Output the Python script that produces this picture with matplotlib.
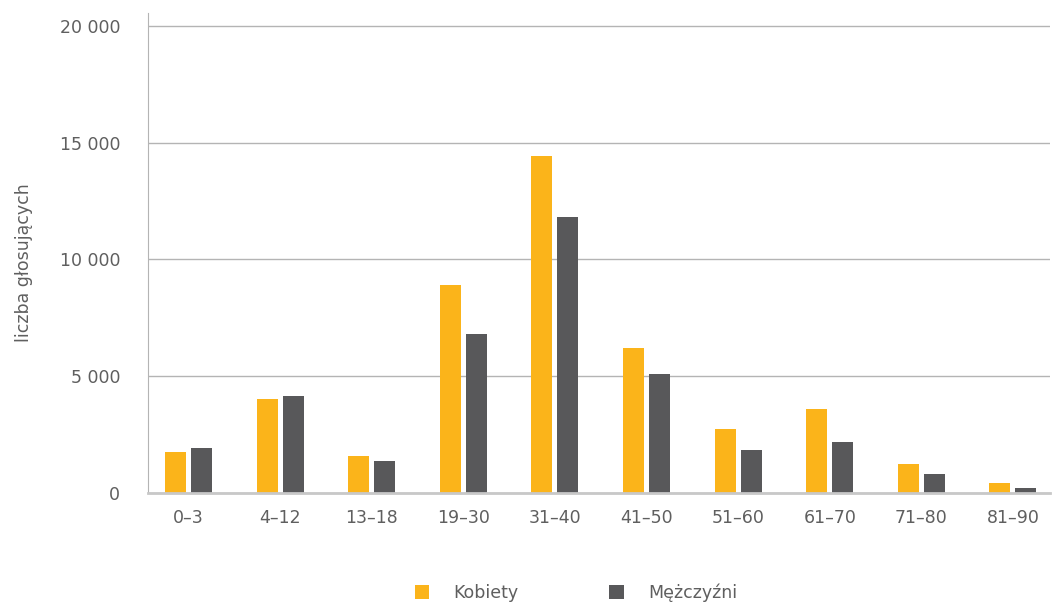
import numpy as np
import matplotlib.pyplot as plt

# age groups and vote counts
categories = ["0–3", "4–12", "13–18", "19–30", "31–40", "41–50", "51–60", "61–70", "71–80", "81–90"]
kobiety = [1740, 4010, 1560, 8890, 14420, 6190, 2720, 3580, 1220, 400]
mezczyzni = [1910, 4140, 1350, 6800, 11810, 5080, 1820, 2160, 790, 190]

orange = '#FBB41A'
dark = '#58585A'
txt = '#5F5F5F'
grid = '#B4B4B4'

plt.rcParams['font.family'] = 'DejaVu Sans'

fig = plt.figure(figsize=(10.53, 6.04), dpi=100)
ax = fig.add_axes([148/1053, 111.5/604, 902/1053, 479.5/604])

x = np.arange(len(categories))
w = 0.229
off = 0.142
ax.bar(x - off, kobiety, w, color=orange, label='Kobiety', zorder=3)
ax.bar(x + off, mezczyzni, w, color=dark, label='Mężczyźni', zorder=3)

ax.set_xlim(-0.442, 9.405)
ax.set_ylim(0, 20557)
ax.set_yticks([0, 5000, 10000, 15000, 20000])
ax.set_yticklabels(['0', '5 000', '10 000', '15 000', '20 000'])
ax.set_xticks(x)
ax.set_xticklabels(categories)
ax.grid(axis='y', color=grid, linewidth=1, zorder=0)
ax.tick_params(axis='both', length=0, labelsize=12.5, colors=txt)
ax.tick_params(axis='y', pad=20)
ax.tick_params(axis='x', pad=12)

for s in ['top', 'right']:
    ax.spines[s].set_visible(False)
ax.spines['left'].set_color(grid)
ax.spines['bottom'].set_color('#C8C8C8')
ax.spines['bottom'].set_linewidth(2)
ax.spines['bottom'].set_zorder(4)

ax.set_ylabel('liczba głosujących', fontsize=12.5, color=txt)
ax.yaxis.set_label_coords(-0.128, 0.48)

fig.legend(loc='lower center', bbox_to_anchor=(0.547, -0.022), ncol=2, frameon=False,
           fontsize=12.5, labelcolor=txt, handlelength=0.85, handleheight=0.85,
           handletextpad=1.4, columnspacing=5.2)

plt.savefig('out.png', dpi=100)
